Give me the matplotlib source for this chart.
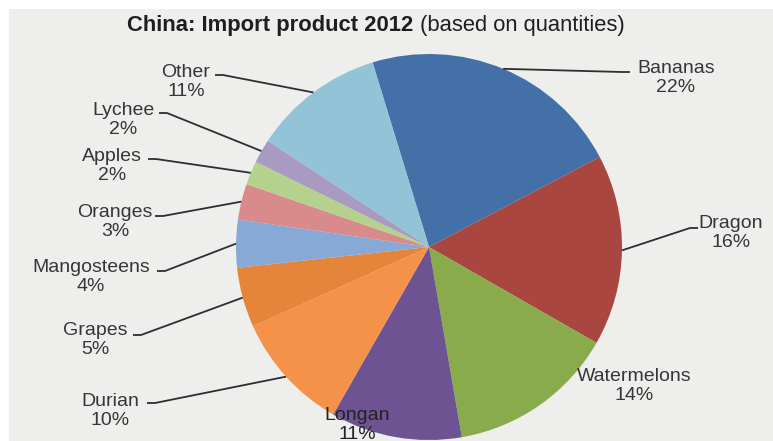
import numpy as np
import matplotlib
matplotlib.use("Agg")
import matplotlib.pyplot as plt
from matplotlib.patches import Rectangle

W, H = 773, 441

# import shares, clockwise from the top
products = ["Bananas", "Dragon", "Watermelons", "Longan", "Durian", "Grapes",
            "Mangosteens", "Oranges", "Apples", "Lychee", "Other"]
shares = [22, 16, 14, 11, 10, 5, 4, 3, 2, 2, 11]
colors = ["#4470a8", "#a94640", "#8aab4c", "#6e5393", "#f5924a", "#e5853a",
          "#88a8d6", "#d98a8a", "#b5d18e", "#a99ac2", "#93c3d7"]

# label block centres and leader-line starts, in pixels from the top left
label_pos = {
    "Bananas": (676, 78), "Dragon": (731, 233), "Watermelons": (634, 386),
    "Longan": (357, 425), "Durian": (110, 411), "Grapes": (95, 340),
    "Mangosteens": (91, 277), "Oranges": (115, 222), "Apples": (112, 166),
    "Lychee": (123, 120), "Other": (186, 82),
}
line_start = {
    "Bananas": (630, 72, -1), "Dragon": (698, 228, -1),
    "Other": (215, 75, 1), "Lychee": (159, 113, 1), "Apples": (148, 159, 1),
    "Oranges": (155, 216, 1), "Mangosteens": (157, 271, 1),
    "Grapes": (133, 335, 1), "Durian": (147, 403, 1),
}

CX, CY, R = 429, H - 247, 193
TEXT = "#363636"

plt.rcParams["font.family"] = ["Liberation Sans", "DejaVu Sans"]

fig = plt.figure(figsize=(W / 100, H / 100), dpi=100, facecolor="white")
fig.patches.append(Rectangle((9 / W, 0), 1 - 9 / W, 1 - 9 / H, transform=fig.transFigure,
                             facecolor="#eeeeec", edgecolor="none", zorder=-1))
ax = fig.add_axes([0, 0, 1, 1])
ax.patch.set_visible(False)

wedges, _ = ax.pie(shares, colors=colors, startangle=107, counterclock=False,
                   center=(CX, CY), radius=R, wedgeprops={"linewidth": 0})
ax.set_xlim(0, W)
ax.set_ylim(0, H)
ax.set_aspect("equal")
ax.axis("off")

for name, share, wedge in zip(products, shares, wedges):
    x, y = label_pos[name]
    ax.text(x, H - y, f"{name}\n{share}%", ha="center", va="center",
            fontsize=14, color=TEXT if name != "Longan" else "#222222",
            linespacing=1.1, zorder=5)
    if name in line_start:
        sx, sy, d = line_start[name]
        mid = np.deg2rad((wedge.theta1 + wedge.theta2) / 2)
        ex, ey = CX + R * np.cos(mid), CY + R * np.sin(mid)
        ax.plot([sx, sx + 8 * d, ex], [H - sy, H - sy, ey], color="#2e2e2e",
                lw=1.3, solid_capstyle="butt", zorder=4)

# title: bold part followed by a regular part
t1 = fig.text(127 / W, 1 - 25 / H, "China: Import product 2012", fontsize=15.8,
              fontweight="bold", color="#1e1e1e", va="center", ha="left")
fig.canvas.draw()
bb = t1.get_window_extent()
fig.text((bb.x1 + 7) / W, 1 - 25 / H, "(based on quantities)", fontsize=15.8,
         color="#1e1e1e", va="center", ha="left")

fig.savefig("out.png", dpi=100, facecolor=fig.get_facecolor())
